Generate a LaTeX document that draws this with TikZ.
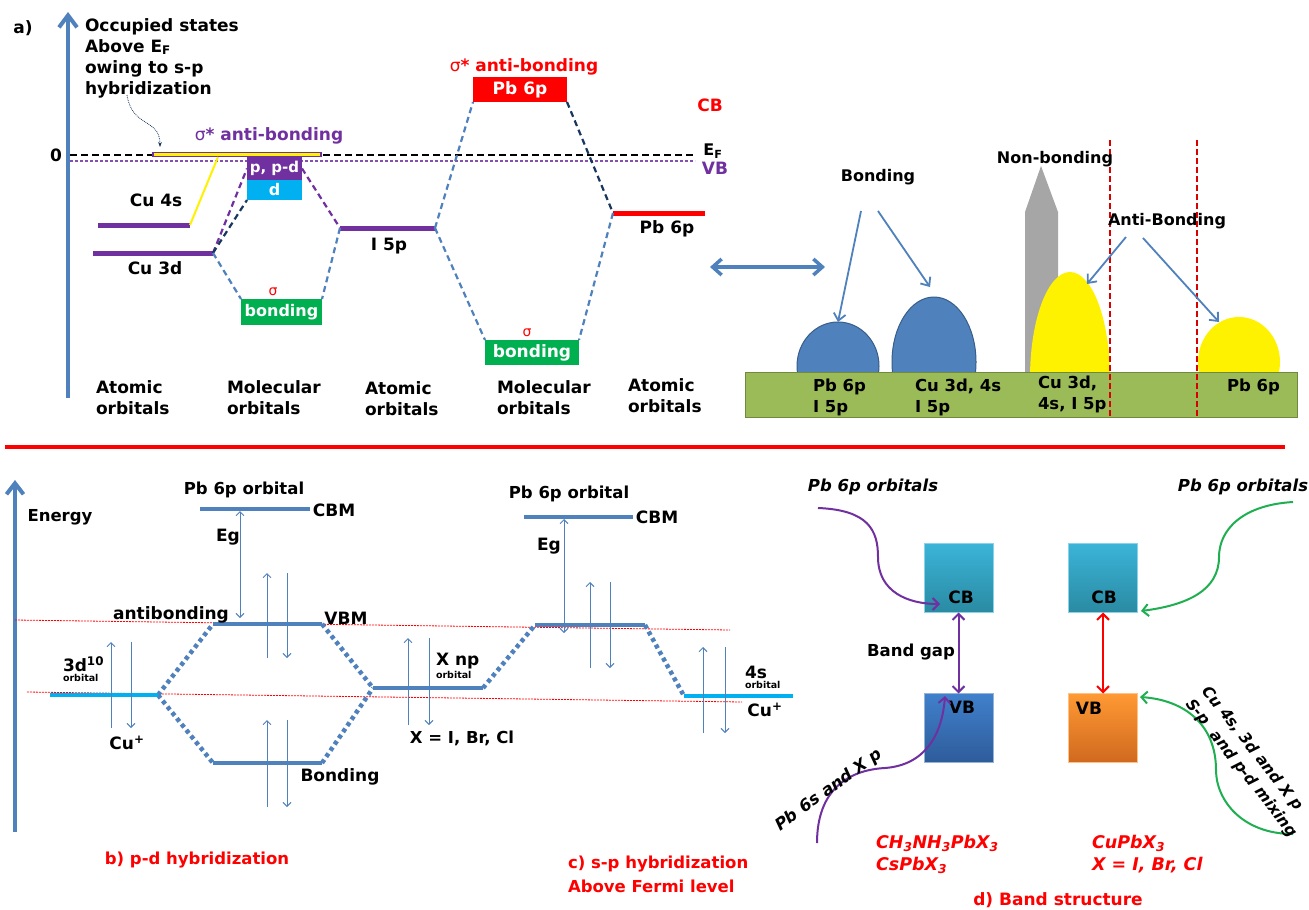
\documentclass[tikz,border=0pt]{standalone}
\usepackage{fontspec}
\setmainfont{DejaVu Sans}
\usetikzlibrary{arrows.meta,shapes.geometric}
\definecolor{steel}{HTML}{4F81BD}
\definecolor{steeld}{HTML}{385D8A}
\definecolor{purp}{HTML}{7030A0}
\definecolor{cyanb}{HTML}{00B0F0}
\definecolor{greenb}{HTML}{00B050}
\definecolor{navy}{HTML}{17375E}
\definecolor{olive}{HTML}{9BBB59}
\definecolor{olived}{HTML}{71893F}
\definecolor{grayb}{HTML}{A6A6A6}
\definecolor{greenc}{HTML}{1FAF50}
\definecolor{cbtop}{HTML}{3BB4D8}
\definecolor{cbbot}{HTML}{2A8AA2}
\definecolor{vbtop}{HTML}{4080CC}
\definecolor{vbbot}{HTML}{2E5C9A}
\definecolor{ortop}{HTML}{FF9933}
\definecolor{orbot}{HTML}{D0691F}
\tikzset{
  fs/.style={font=\fontsize{#1}{21}\selectfont\bfseries},
  itl/.style={font=\fontsize{#1}{21}\selectfont\bfseries\itshape},
  bar/.style={line width=5pt},
  bbar/.style={steel, line width=4pt},
  cbar/.style={cyanb, line width=4pt},
  dsh/.style={line width=2.2pt, dash pattern=on 6pt off 4pt},
  dotb/.style={steel, line width=4.5pt, dash pattern=on 4pt off 3.5pt},
  thinup/.style={steel, line width=0.9pt, -{Straight Barb[length=4pt,width=8pt]}},
  thinboth/.style={steel, line width=0.9pt, {Straight Barb[length=4pt,width=8pt]}-{Straight Barb[length=4pt,width=8pt]}},
  reddash/.style={red, line width=0.8pt, dash pattern=on 2pt off 1pt},
  barb/.style={-{Straight Barb[length=6pt,width=12pt]}},
  boxlbl/.style={text=white},
  blarr/.style={steel, line width=1.8pt, -{Straight Barb[length=7pt,width=12pt]}},
}
\begin{document}
\begin{tikzpicture}[x=1pt,y=-1pt,
  every node/.style={inner sep=0pt, outer sep=0pt, font=\fontsize{16}{21}\selectfont\bfseries}]
\useasboundingbox[fill=white] (0,0) rectangle (1309,910);

% ================= panel a (left) =================
\node[fs=17] (lba) at (23,28) {a)};
\coordinate (axa0) at (68,398);
\coordinate (axa1) at (68,12);
\draw[steel, line width=4pt, -{Straight Barb[length=12pt,width=18pt]}] (axa0) -- (axa1);
\node[fs=17, anchor=west, align=left] (occ) at (85,58) {Occupied states\\Above E\textsubscript{F}\\owing to s-p\\hybridization};
\coordinate (occa) at (127,95);
\coordinate (occb) at (160,147);
\draw[navy, line width=0.8pt, densely dotted, -{Stealth[length=5pt]}] (occa) .. controls (132,128) and (160,118) .. (occb);
\node[fs=17] (zero) at (56,155) {0};

\coordinate (ef0) at (70,155); \coordinate (ef1) at (695,155);
\coordinate (vb0) at (70,161); \coordinate (vb1) at (695,161);
\draw[black, line width=2.5pt, dash pattern=on 7pt off 4pt] (ef0) -- (ef1);
\draw[purp!85, line width=2.5pt, dash pattern=on 2.5pt off 2.5pt] (vb0) -- (vb1);
\node[fs=16] (ef) at (713,151) {E\textsubscript{F}};
\node[fs=17, purp] (vbt) at (715,168) {VB};
\node[fs=17, red] (cbt) at (710,105) {CB};

% atomic levels
\coordinate (c4sL) at (98,225); \coordinate (c4sR) at (190,225);
\coordinate (c3dL) at (93,253); \coordinate (c3dR) at (213,253);
\coordinate (i5L) at (340,228); \coordinate (i5R) at (435,228);
\coordinate (pbL) at (613,213); \coordinate (pbR) at (705,213);
\draw[purp, bar] (c4sL) -- (c4sR);
\draw[purp, bar] (c3dL) -- (c3dR);
\draw[purp, bar] (i5L) -- (i5R);
\draw[red, bar] (pbL) -- (pbR);
\node[fs=17] (c4st) at (156,200) {Cu 4s};
\node[fs=17] (c3dt) at (155,268) {Cu 3d};
\node[fs=17] (i5t) at (389,246) {I 5p};
\node[fs=17] (pbt) at (667,229) {Pb 6p};

% molecular boxes
\node[draw=purp, fill=yellow, line width=1.3pt, minimum width=168pt, minimum height=4pt] (anti) at (237,154.5) {};
\node[fs=17, purp] (sig1) at (269,136) {{\mdseries σ}* anti-bonding};
\node[fill=purp, boxlbl, fs=15, minimum width=55pt, minimum height=23pt] (ppd) at (274.5,168.5) {p, p-d};
\node[fill=cyanb, boxlbl, fs=16, minimum width=55pt, minimum height=20pt] (dbox) at (274.5,190) {d};
\node[fill=greenb, boxlbl, fs=16, minimum width=81pt, minimum height=26pt] (bond1) at (281.5,312) {bonding};
\node[red, font=\fontsize{14}{16}\selectfont] (s1) at (273,292) {σ};
\node[fill=red, boxlbl, fs=17, minimum width=94pt, minimum height=25pt] (pbbox) at (520,89.5) {Pb 6p};
\node[fs=17, red] (sig2) at (524,67) {{\mdseries σ}* anti-bonding};
\node[fill=greenb, boxlbl, fs=17, minimum width=94pt, minimum height=25pt] (bond2) at (532,352.5) {bonding};
\node[red, font=\fontsize{14}{16}\selectfont] (s2) at (527,333) {σ};

% connectors
\coordinate (yl1) at (218,157);
\draw[yellow, line width=2pt] (c4sR) -- (yl1);
\draw[purp, dsh] (c3dR) -- (ppd.west);
\draw[navy, dsh] (c3dR) -- (dbox.south west);
\draw[purp, dsh] (ppd.east) -- (i5L);
\draw[steel, dsh] (c3dR) -- (bond1.north west);
\draw[steel, dsh] (i5L) -- (bond1.north east);
\draw[steel, dsh] (i5R) -- (pbbox.south west);
\draw[steel, dsh] (i5R) -- (bond2.north west);
\draw[navy, dsh] (pbbox.south east) -- (pbL);
\draw[steel, dsh] (pbL) -- (bond2.north east);

% column labels
\node[fs=17, anchor=west, align=left] (ao1) at (96,397.5) {Atomic\\orbitals};
\node[fs=17, anchor=west, align=left] (mo1) at (227,397.5) {Molecular\\orbitals};
\node[fs=17, anchor=west, align=left] (ao2) at (365,399) {Atomic\\orbitals};
\node[fs=17, anchor=west, align=left] (mo2) at (497,397.5) {Molecular\\orbitals};
\node[fs=17, anchor=west, align=left] (ao3) at (628,396) {Atomic\\orbitals};

% ================= panel a (right) =================
\coordinate (dA) at (710,267); \coordinate (dB) at (825,267);
\draw[steel, line width=3.5pt, {Straight Barb[length=9pt,width=16pt]}-{Straight Barb[length=9pt,width=16pt]}] (dA) -- (dB);

\begin{scope}
\clip (740,100) rectangle (1300,373);
\node[ellipse, fill=steel, draw=steeld, line width=1pt, minimum width=82pt, minimum height=88pt] (bl1) at (838,366) {};
\node[ellipse, fill=steel, draw=steeld, line width=1pt, minimum width=84pt, minimum height=130pt] (bl2) at (934,362) {};
\fill[grayb] (1025,373) -- (1025,212) -- (1041,166) -- (1058,212) -- (1058,373) -- cycle;
\node[ellipse, fill=yellow, minimum width=80pt, minimum height=212pt] (ya1) at (1070,378) {};
\node[ellipse, fill=yellow, minimum width=82pt, minimum height=90pt] (ya2) at (1239,362) {};
\end{scope}
\node[fill=olive, draw=olived, line width=1pt, minimum width=552pt, minimum height=45pt] (base) at (1021,394.5) {};
\coordinate (rd1a) at (1110,140); \coordinate (rd1b) at (1110,417);
\coordinate (rd2a) at (1197,140); \coordinate (rd2b) at (1197,417);
\draw[red!85!black, line width=2pt, dash pattern=on 6pt off 3pt] (rd1a) -- (rd1b);
\draw[red!85!black, line width=2pt, dash pattern=on 6pt off 3pt] (rd2a) -- (rd2b);

\node[fs=16] (bondlbl) at (878,177) {Bonding};
\node[fs=16] (nonb) at (1055,159) {Non-bonding};
\node[fs=16] (antilbl) at (1167,221) {Anti-Bonding};
\coordinate (ba1) at (861,211); \coordinate (ba2) at (878,211); \coordinate (bt2) at (930,287);
\coordinate (aa1) at (1126,237); \coordinate (at1) at (1087,284);
\coordinate (aa2) at (1143,238); \coordinate (at2) at (1219,322);
\draw[blarr] (ba1) -- (bl1.north);
\draw[blarr] (ba2) -- (bt2);
\draw[blarr] (aa1) -- (at1);
\draw[blarr] (aa2) -- (at2);

\node[fs=16.5, anchor=west, align=left] (g1) at (813,397.5) {Pb 6p\\I 5p};
\node[fs=16.5, anchor=west, align=left] (g2) at (915,397.5) {Cu 3d, 4s\\I 5p};
\node[fs=16.5, anchor=west, align=left] (g3) at (1038,394) {Cu 3d,\\4s, I 5p};
\node[fs=16.5, anchor=west] (g4) at (1227,387) {Pb 6p};

% separator
\coordinate (sep0) at (5,447); \coordinate (sep1) at (1285,447);
\draw[red, line width=4pt] (sep0) -- (sep1);

% ================= panel b / c =================
\coordinate (axb0) at (15,832); \coordinate (axb1) at (15,480);
\draw[steel, line width=4pt, -{Straight Barb[length=11pt,width=17pt]}] (axb0) -- (axb1);
\node[fs=16.5] (energy) at (60,517) {Energy};

\coordinate (rl1a) at (15,620); \coordinate (rl1b) at (730,630);
\coordinate (rl2a) at (27,692); \coordinate (rl2b) at (742,702);
\draw[reddash] (rl1a) -- (rl1b);
\draw[reddash] (rl2a) -- (rl2b);

\coordinate (cbmbL) at (200,509); \coordinate (cbmbR) at (310,509);
\coordinate (abL) at (213,624); \coordinate (abR) at (322,624);
\coordinate (bdL) at (213,763); \coordinate (bdR) at (322,763);
\coordinate (d3L) at (50,695); \coordinate (d3R) at (158,695);
\coordinate (xL) at (373,688); \coordinate (xR) at (483,688);
\coordinate (cabL) at (535,625); \coordinate (cabR) at (645,625);
\coordinate (cbmcL) at (524,517); \coordinate (cbmcR) at (633,517);
\coordinate (s4L) at (684,696); \coordinate (s4R) at (793,696);

\draw[dotb] (d3R) -- (abL);
\draw[dotb] (d3R) -- (bdL);
\draw[dotb] (abR) -- (xL);
\draw[dotb] (bdR) -- (xL);
\draw[dotb] (xR) -- (cabL);
\draw[dotb] (cabR) -- (s4L);

\draw[bbar] (cbmbL) -- (cbmbR);
\draw[bbar] (abL) -- (abR);
\draw[bbar] (bdL) -- (bdR);
\draw[cbar] (d3L) -- (d3R);
\draw[bbar] (xL) -- (xR);
\draw[bbar] (cabL) -- (cabR);
\draw[bbar] (cbmcL) -- (cbmcR);
\draw[cbar] (s4L) -- (s4R);

% Eg arrows
\coordinate (egb0) at (240,511); \coordinate (egb1) at (240,618);
\coordinate (egc0) at (564,519); \coordinate (egc1) at (564,633);
\draw[thinboth] (egb0) -- (egb1);
\draw[thinboth] (egc0) -- (egc1);

% spin arrows
\foreach \n/\xa/\xb/\ya/\yb in {ab/267/287/658/573, bd/267/287/807/720, dd/111/131/728/642, xx/408/429/725/638, ca/590/610/668/582, ss/703/725/733/647}{
  \coordinate (u0\n) at (\xa,\ya); \coordinate (u1\n) at (\xa,\yb);
  \coordinate (w0\n) at (\xb,\yb); \coordinate (w1\n) at (\xb,\ya);
  \draw[thinup] (u0\n) -- (u1\n);
  \draw[thinup] (w0\n) -- (w1\n);
}

\node[fs=16.5] (pb6b) at (244,490) {Pb 6p orbital};
\node[fs=17] (cbmb) at (334,510) {CBM};
\node[fs=17] (egb) at (228,537) {Eg};
\node[fs=17] (antib) at (171,615) {antibonding};
\node[fs=17] (vbm) at (346,618) {VBM};
\node[fs=17, anchor=west] (d10) at (63,664) {3d\textsuperscript{10}};
\node[fs=9.5, anchor=west] (d10o) at (63,678) {orbital};
\node[fs=17] (cup1) at (127,743) {Cu\textsuperscript{+}};
\node[fs=17] (bondb) at (340,777) {Bonding};
\node[fs=17, anchor=west] (xnp) at (436,661) {X np};
\node[fs=9.5, anchor=west] (xnpo) at (436,675) {orbital};
\node[fs=16.5] (xeq) at (462,738) {X = I, Br, Cl};
\node[fs=16.5] (pb6c) at (569,494) {Pb 6p orbital};
\node[fs=17] (cbmc) at (657,517) {CBM};
\node[fs=17] (egc) at (549,546) {Eg};
\node[fs=17, anchor=west] (s4t) at (745,672) {4s};
\node[fs=9.5, anchor=west] (s4o) at (745,685) {orbital};
\node[fs=17] (cup2) at (765,710) {Cu\textsuperscript{+}};

\node[fs=16.5, red] (blab) at (197,860) {b) p-d hybridization};
\node[font=\fontsize{16.5}{24}\selectfont\bfseries, red, anchor=west, align=left] (clab) at (568,874) {c) s-p hybridization\\Above Fermi level};

% ================= panel d =================
\node[minimum size=69pt, top color=cbtop, bottom color=cbbot, draw=cbtop!60] (cb1) at (958.5,578) {};
\node[minimum size=69pt, top color=vbtop, bottom color=vbbot, draw=steel!60] (vb1b) at (958.5,728) {};
\node[minimum size=69pt, top color=cbtop, bottom color=cbbot, draw=cbtop!60] (cb2) at (1103,578) {};
\node[minimum size=69pt, top color=ortop, bottom color=orbot, draw=ortop!60] (vb2b) at (1103,728) {};
\node[fs=17] (cbt1) at (961,597) {CB};
\node[fs=17] (vbt1) at (962,707) {VB};
\node[fs=17] (cbt2) at (1104,597) {CB};
\node[fs=17] (vbt2) at (1089,708) {VB};

\draw[purp, line width=2pt, {Straight Barb[length=6pt,width=12pt]}-{Straight Barb[length=6pt,width=12pt]}] (cb1.south) -- (vb1b.north);
\draw[red, line width=2pt, {Straight Barb[length=6pt,width=12pt]}-{Straight Barb[length=6pt,width=12pt]}] (cb2.south) -- (vb2b.north);
\node[fs=16.5] (bgap) at (911,652) {Band gap};

\coordinate (p1s) at (818,508); \coordinate (p1e) at (940,604);
\coordinate (p2s) at (817,843); \coordinate (p2e) at (945,696);
\coordinate (g1s) at (1293,502); \coordinate (g1e) at (1141,611);
\coordinate (g2s) at (1293,834); \coordinate (g2e) at (1140,697);
\draw[purp, line width=2pt, barb] (p1s) .. controls (868,510) and (878,530) .. (878,557) .. controls (878,592) and (908,604) .. (p1e);
\draw[purp, line width=2pt, barb] (p2s) .. controls (817,790) and (848,770) .. (885,768) .. controls (925,765) and (942,735) .. (p2e);
\draw[greenc, line width=2pt, barb] (g1s) .. controls (1242,505) and (1219,530) .. (1219,557) .. controls (1219,590) and (1188,605) .. (g1e);
\draw[greenc, line width=2pt, barb] (g2s) .. controls (1242,834) and (1216,800) .. (1216,770) .. controls (1216,725) and (1185,700) .. (g2e);

\node[itl=16.5] (pbo1) at (873,487) {Pb 6p orbitals};
\node[itl=16.5] (pbo2) at (1243,487) {Pb 6p orbitals};
\node[itl=16.5, rotate=36] (pb6s) at (829,790) {Pb 6s and X p};
\node[itl=15.5, rotate=-52, anchor=west, align=left] (cumix) at (1197,695) {Cu 4s, 3d and X p\\S-p\ \ and p-d mixing};

\node[font=\fontsize{17.5}{22}\selectfont\bfseries\itshape, red, anchor=west, align=left] (form1) at (876,854) {CH\textsubscript{3}NH\textsubscript{3}PbX\textsubscript{3}\\CsPbX\textsubscript{3}};
\node[font=\fontsize{17.5}{22}\selectfont\bfseries\itshape, red, anchor=west, align=left] (form2) at (1092,854) {CuPbX\textsubscript{3}\\X = I, Br, Cl};
\node[fs=17, red] (dlab) at (1058,900) {d) Band structure};
\end{tikzpicture}
\end{document}
